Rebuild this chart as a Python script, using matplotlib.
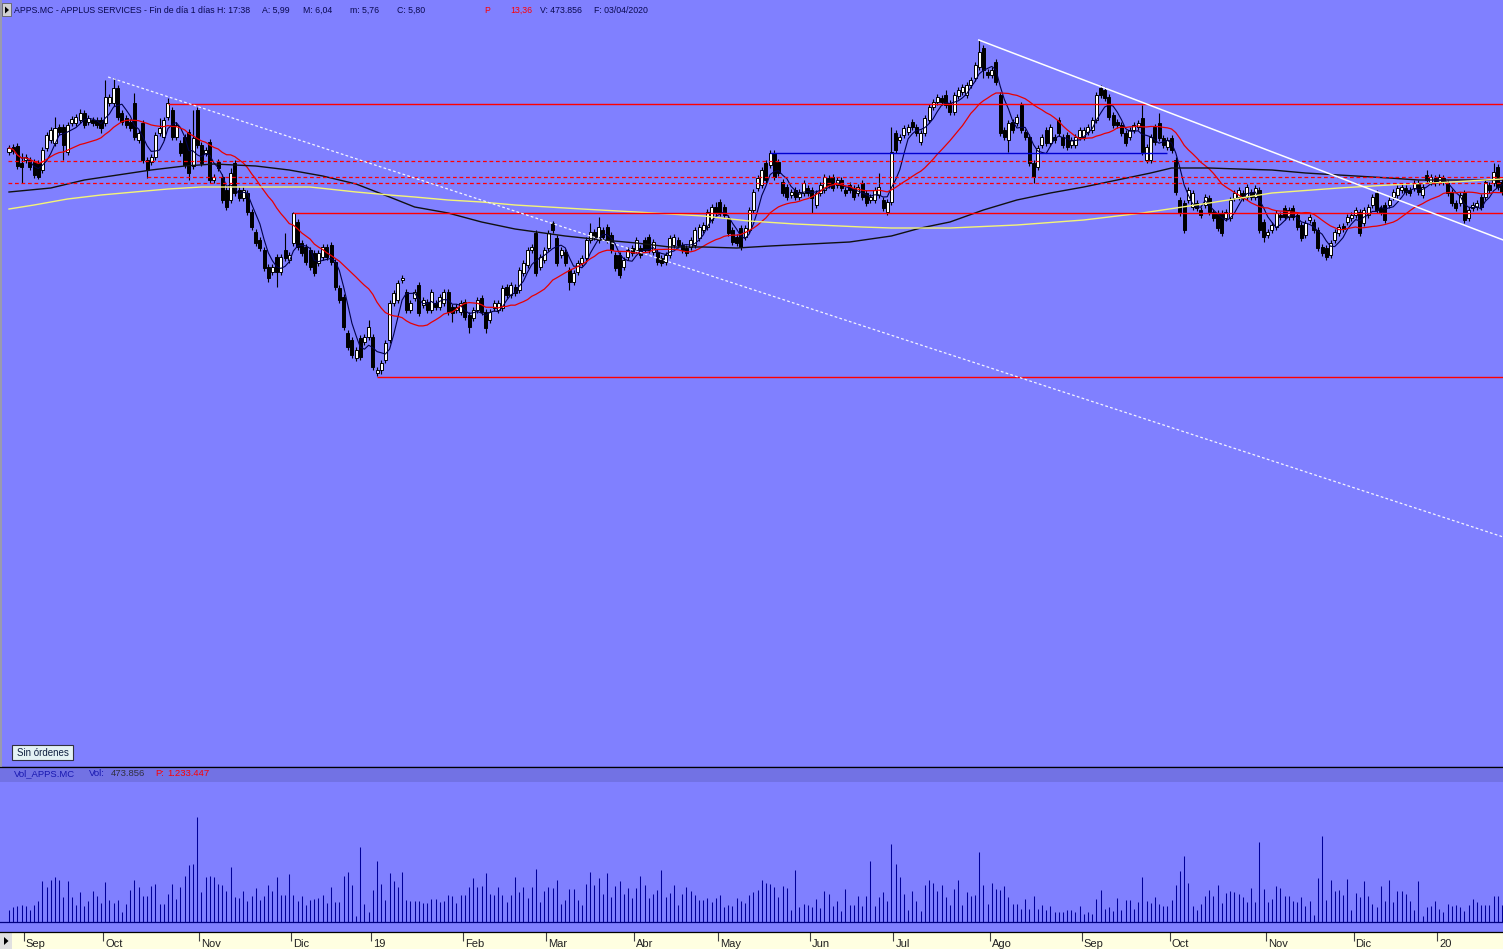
import numpy as np
import pandas as pd
import matplotlib
matplotlib.use("Agg")
import matplotlib.pyplot as plt
from matplotlib.patches import Rectangle, Polygon
import matplotlib.transforms as mtransforms

# ---------------- data (prices in euro cents, volume in thousands of shares) -------------
opens = [
    1148,1153,1154,1137,1140,1140,1138,1137,1130,1152,
    1160,1157,1173,1173,1148,1177,1177,1180,1187,1178,
    1180,1180,1180,1177,1197,1197,1212,1187,1182,1178,
    1197,1160,1177,1140,1138,1143,1167,1163,1183,1190,
    1163,1157,1163,1168,1134,1190,1155,1147,1158,1120,
    1138,1123,1110,1100,1137,1110,1102,1107,1088,1068,
    1060,1050,1033,1028,1043,1028,1050,1040,1057,1078,
    1057,1053,1050,1047,1037,1043,1053,1055,1038,1012,
    1003,967,960,942,962,958,963,963,927,930,
    940,960,997,1000,1020,1008,990,1002,1015,995,
    998,990,997,993,997,1008,993,990,988,998,
    985,982,990,1002,988,980,992,990,992,1013,
    1005,1013,1010,1027,1035,1050,1067,1033,1040,1052,
    1077,1062,1045,1048,1030,1018,1028,1037,1042,1060,
    1068,1060,1070,1073,1065,1045,1045,1033,1043,1052,
    1050,1052,1060,1063,1048,1048,1042,1038,1045,1055,
    1060,1055,1052,1053,1055,1062,1070,1073,1080,1093,
    1098,1093,1082,1070,1063,1072,1063,1070,1090,1112,
    1115,1137,1135,1147,1138,1118,1113,1105,1110,1103,
    1107,1112,1110,1095,1107,1110,1122,1123,1115,1120,
    1110,1115,1112,1107,1117,1107,1100,1100,1105,1100,
    1088,1098,1167,1160,1165,1168,1178,1173,1158,1167,
    1180,1193,1198,1202,1205,1197,1188,1204,1208,1205,
    1215,1222,1233,1252,1228,1225,1238,1205,1170,1160,
    1178,1177,1195,1168,1163,1137,1133,1155,1170,1157,
    1163,1180,1163,1165,1155,1155,1163,1163,1168,1170,
    1180,1212,1210,1203,1185,1178,1175,1167,1163,1170,
    1173,1182,1140,1140,1173,1177,1162,1153,1162,1140,
    1100,1097,1100,1093,1097,1090,1095,1102,1088,1087,
    1087,1082,1082,1102,1103,1107,1103,1108,1103,1110,
    1078,1065,1070,1073,1085,1092,1083,1092,1085,1075,
    1065,1080,1078,1070,1053,1052,1045,1060,1067,1074,
    1078,1082,1085,1088,1077,1085,1095,1107,1092,1095,
    1095,1103,1105,1110,1112,1110,1112,1117,1105,1125,
    1118,1122,1118,1122,1117,1108,1097,1097,1107,1082,
    1092,1093,1103,1103,1115,1117,1133,1118,
]
highs = [
    1155,1156,1157,1147,1146,1143,1141,1140,1153,1168,
    1173,1183,1176,1176,1178,1184,1186,1191,1190,1185,
    1183,1183,1183,1220,1206,1222,1215,1190,1185,1181,
    1207,1170,1180,1143,1146,1168,1182,1183,1202,1193,
    1178,1160,1166,1171,1190,1193,1158,1153,1161,1126,
    1141,1126,1113,1132,1140,1113,1113,1110,1091,1071,
    1063,1053,1036,1036,1046,1046,1067,1048,1088,1081,
    1060,1056,1053,1050,1050,1056,1056,1058,1041,1015,
    1006,970,963,953,965,966,980,966,933,940,
    960,1000,1010,1020,1025,1011,1000,1011,1018,1003,
    1001,1011,1000,1006,1011,1011,996,996,1000,1001,
    988,993,1003,1005,991,991,1000,1000,1015,1016,
    1018,1016,1033,1040,1053,1056,1070,1046,1053,1070,
    1079,1065,1053,1051,1033,1030,1040,1045,1063,1077,
    1071,1083,1073,1076,1068,1048,1048,1043,1053,1055,
    1063,1055,1063,1066,1061,1051,1045,1048,1065,1066,
    1063,1058,1055,1063,1073,1076,1078,1091,1096,1098,
    1101,1096,1085,1073,1066,1075,1075,1093,1111,1125,
    1133,1140,1150,1150,1141,1121,1116,1111,1113,1111,
    1120,1115,1113,1110,1118,1126,1125,1126,1123,1123,
    1113,1118,1115,1116,1120,1110,1106,1113,1127,1103,
    1101,1173,1170,1166,1175,1176,1181,1176,1170,1185,
    1196,1201,1206,1205,1210,1200,1208,1213,1216,1218,
    1223,1238,1260,1255,1231,1233,1241,1208,1173,1180,
    1181,1186,1198,1171,1166,1140,1155,1166,1173,1176,
    1166,1183,1166,1168,1163,1166,1173,1173,1176,1183,
    1208,1215,1213,1206,1188,1181,1178,1170,1173,1178,
    1180,1195,1156,1166,1176,1187,1165,1163,1165,1143,
    1103,1100,1113,1110,1100,1093,1106,1105,1091,1090,
    1090,1091,1103,1110,1113,1110,1116,1111,1115,1113,
    1081,1071,1078,1090,1088,1095,1093,1095,1088,1078,
    1080,1086,1081,1073,1056,1055,1060,1071,1076,1077,
    1086,1088,1093,1091,1093,1096,1106,1110,1095,1098,
    1103,1111,1115,1116,1115,1113,1120,1120,1116,1130,
    1126,1125,1126,1125,1120,1111,1100,1108,1110,1093,
    1098,1100,1106,1121,1118,1137,1136,1121,
]
lows = [
    1145,1146,1131,1117,1137,1130,1122,1121,1127,1149,
    1157,1154,1165,1140,1145,1174,1174,1177,1172,1175,
    1174,1172,1167,1174,1194,1194,1180,1175,1172,1169,
    1160,1157,1137,1122,1135,1140,1164,1160,1180,1160,
    1160,1144,1132,1120,1131,1152,1134,1144,1117,1117,
    1129,1097,1090,1097,1104,1099,1099,1085,1070,1054,
    1049,1029,1018,1025,1013,1025,1039,1037,1054,1050,
    1044,1035,1030,1024,1034,1040,1040,1035,1010,997,
    970,950,942,939,940,955,960,930,924,926,
    937,957,994,997,1017,987,987,999,984,992,
    987,987,990,990,994,985,978,987,985,980,
    967,979,987,985,967,977,989,987,989,1002,
    1002,1004,1007,1024,1032,1047,1024,1030,1037,1049,
    1067,1034,1042,1034,1010,1015,1025,1034,1039,1057,
    1060,1057,1060,1057,1047,1029,1022,1030,1040,1044,
    1047,1042,1047,1047,1045,1035,1034,1035,1042,1052,
    1052,1047,1044,1050,1052,1059,1067,1070,1077,1084,
    1084,1082,1064,1055,1054,1050,1060,1067,1087,1109,
    1112,1117,1132,1120,1124,1104,1100,1102,1100,1100,
    1104,1104,1087,1092,1104,1107,1112,1109,1112,1109,
    1104,1107,1100,1104,1100,1094,1097,1097,1102,1089,
    1085,1095,1147,1157,1162,1165,1170,1164,1155,1164,
    1177,1190,1195,1195,1192,1185,1185,1201,1205,1202,
    1212,1219,1230,1222,1222,1222,1215,1164,1160,1148,
    1167,1174,1167,1160,1134,1117,1130,1152,1154,1154,
    1157,1164,1152,1150,1152,1152,1160,1160,1165,1167,
    1177,1202,1199,1180,1172,1172,1164,1154,1160,1167,
    1170,1145,1137,1137,1155,1159,1152,1150,1147,1105,
    1084,1067,1097,1090,1089,1082,1092,1085,1079,1069,
    1064,1079,1079,1099,1100,1099,1100,1100,1100,1067,
    1058,1062,1067,1070,1080,1080,1080,1080,1070,1059,
    1062,1077,1067,1049,1044,1040,1042,1057,1064,1068,
    1075,1079,1082,1064,1074,1082,1092,1087,1085,1077,
    1092,1100,1102,1107,1105,1104,1109,1105,1102,1117,
    1115,1114,1115,1115,1104,1094,1089,1094,1077,1079,
    1089,1090,1090,1100,1107,1114,1110,1105,
]
closes = [
    1152,1149,1134,1133,1143,1133,1125,1123,1150,1165,
    1170,1172,1168,1155,1175,1181,1183,1187,1175,1182,
    1177,1175,1172,1203,1203,1212,1183,1178,1175,1172,
    1163,1167,1140,1130,1143,1165,1172,1180,1197,1163,
    1175,1147,1135,1127,1162,1155,1137,1150,1120,1123,
    1132,1100,1093,1127,1107,1102,1110,1088,1073,1057,
    1052,1032,1022,1033,1028,1043,1042,1045,1087,1053,
    1047,1038,1033,1027,1047,1053,1043,1038,1013,1000,
    973,953,945,950,943,963,973,933,930,937,
    957,997,1007,1017,1022,990,997,1008,987,1000,
    990,1008,993,1003,1008,988,987,993,997,983,
    973,990,1000,988,972,988,997,997,1012,1005,
    1015,1007,1030,1037,1050,1053,1027,1043,1050,1067,
    1070,1037,1050,1037,1018,1027,1037,1042,1060,1068,
    1063,1073,1063,1060,1050,1032,1025,1040,1050,1047,
    1060,1045,1050,1050,1058,1038,1037,1045,1062,1063,
    1055,1050,1047,1060,1070,1073,1075,1088,1093,1087,
    1087,1085,1067,1058,1057,1053,1072,1090,1108,1122,
    1130,1120,1147,1123,1127,1107,1103,1108,1103,1108,
    1117,1107,1102,1107,1115,1123,1115,1112,1120,1112,
    1107,1110,1103,1113,1103,1097,1103,1110,1113,1092,
    1098,1148,1150,1163,1172,1173,1173,1167,1167,1182,
    1193,1198,1203,1198,1195,1188,1205,1210,1213,1215,
    1220,1235,1248,1230,1225,1230,1218,1167,1163,1177,
    1170,1183,1170,1163,1137,1123,1152,1163,1157,1173,
    1160,1167,1155,1153,1160,1163,1170,1170,1173,1180,
    1205,1205,1202,1183,1175,1175,1167,1157,1170,1175,
    1177,1148,1153,1163,1158,1162,1155,1160,1150,1108,
    1087,1070,1110,1107,1092,1085,1103,1088,1082,1072,
    1067,1088,1100,1107,1110,1102,1113,1103,1112,1070,
    1063,1068,1075,1087,1083,1083,1090,1083,1073,1062,
    1077,1083,1070,1052,1047,1043,1057,1068,1073,1071,
    1083,1085,1090,1067,1090,1093,1103,1090,1088,1080,
    1100,1108,1112,1113,1108,1107,1117,1108,1113,1120,
    1123,1117,1123,1118,1107,1097,1092,1105,1080,1090,
    1095,1097,1093,1118,1110,1128,1113,1108,
]
volumes = [
    240,300,320,340,320,240,340,420,820,700,
    840,900,840,500,820,500,340,600,320,420,
    620,520,380,800,440,380,440,200,360,640,
    840,700,520,520,720,760,360,360,560,760,
    460,700,920,1140,1160,2100,600,900,920,900,
    760,740,620,1100,500,480,620,420,520,680,
    440,520,740,620,900,540,540,960,540,420,
    520,340,440,460,480,540,380,700,400,400,
    920,1000,740,120,1500,360,200,640,1220,760,
    440,980,820,700,1000,440,420,420,420,380,
    380,460,460,400,420,540,520,380,540,540,
    700,880,700,720,980,560,540,700,540,400,
    540,900,600,700,480,700,1060,400,620,700,
    680,840,360,440,660,660,440,340,760,1000,
    740,880,560,980,500,720,820,560,680,480,
    680,920,740,480,560,640,1040,500,580,740,
    340,560,700,620,540,440,440,480,400,480,
    540,300,340,320,480,420,380,540,
    600,640,840,780,760,700,500,720,680,240,
    1040,300,360,340,300,460,280,620,560,320,
    420,220,660,340,340,520,320,520,1220,320,
    500,600,420,1560,1160,900,560,240,620,420,
    220,740,840,780,620,740,500,340,660,840,
    340,600,520,540,1400,740,360,780,660,640,
    720,500,360,360,260,460,260,520,260,340,
    240,320,200,200,200,240,240,200,320,160,
    200,160,460,640,260,300,220,480,240,440,
    440,260,400,900,420,380,500,360,320,320,
    440,740,1020,1320,780,320,240,360,520,640,
    520,740,380,580,620,600,560,500,400,680,
    400,1600,660,400,460,720,680,520,520,420,
    400,500,320,420,140,880,1720,440,840,620,
    640,540,860,240,580,500,820,520,360,300,
    720,420,840,400,620,620,560,420,240,820,
    120,300,320,420,260,200,360,320,340,300,
    220,340,460,400,340,340,340,520,520,340,
]

# first session of each month (candle index) and its label
month_starts = [4, 23, 46, 68, 87, 109, 129, 150, 170, 192, 212, 235, 257, 278, 301, 322, 342]
month_labels = ["Sep", "Oct", "Nov", "Dic", "19", "Feb", "Mar", "Abr", "May", "Jun",
                "Jul", "Ago", "Sep", "Oct", "Nov", "Dic", "20"]

# long moving averages (candle index, cents)
ma_long_idx = [0, 10, 18, 26, 34, 42, 49, 59, 67, 75, 83, 91, 97, 105, 113, 121, 133, 142, 150,
               158, 166, 174, 182, 201, 211, 218, 225, 233, 241, 249, 257, 265, 273, 278, 287,
               294, 302, 310, 318, 330, 337, 345, 357]
ma_long_vals = [1108, 1112, 1120, 1125, 1130, 1134, 1136, 1134, 1130, 1124, 1116, 1103, 1093,
                1087, 1078, 1071, 1064, 1060, 1057, 1053, 1053, 1052, 1054, 1058, 1064, 1072,
                1078, 1090, 1100, 1107, 1113, 1120, 1127, 1132, 1132, 1131, 1130, 1127, 1125,
                1122, 1120, 1120, 1120]
ma_yel_idx = [0, 6, 14, 22, 30, 38, 46, 72, 83, 91, 97, 105, 113, 121, 129, 137, 150, 158, 166,
              177, 188, 204, 211, 225, 241, 257, 271, 287, 302, 318, 330, 345, 357]
ma_yel_vals = [1091, 1095, 1101, 1105, 1108, 1111, 1113, 1113, 1108, 1105, 1103, 1100, 1098,
               1095, 1093, 1091, 1088, 1086, 1084, 1079, 1076, 1073, 1072, 1072, 1075, 1080,
               1087, 1097, 1107, 1112, 1115, 1118, 1121]

# drawn levels: (price cents, first candle index)
red_levels = [(1196, 38), (1087, 68), (923, 88)]
red_dashed_levels = [(1139.5, -0.3), (1123, 33), (1117.5, -0.3)]
blue_level = (1147.5, 182, 277)
# trendlines: (x0, p0, x1, p1)
trend_dashed = (23.7, 1223, 357.3, 763)
trend_solid = (231.9, 1260, 357.3, 1060)

# ---------------- figure ----------------
W, H = 1503, 949
BG = "#8080FF"
X0, DX = 9.0, 4.182
XLIM = (-X0 / DX, (W - X0) / DX)

fig = plt.figure(figsize=(W / 100, H / 100), dpi=100)
fig.patch.set_facecolor(BG)


def fy(py):
    return 1 - py / H


def clean(a):
    a.set_xticks([])
    a.set_yticks([])
    for s in a.spines.values():
        s.set_visible(False)


ax = fig.add_axes([0, fy(766), 1, 766 / H])
axh = fig.add_axes([0, fy(782), 1, 16 / H])
axv = fig.add_axes([0, fy(932), 1, 150 / H])
axb = fig.add_axes([0, 0, 1, 17 / H])
for a in (ax, axh, axv, axb):
    clean(a)
    a.set_xlim(*XLIM)
ax.set_facecolor(BG)
axh.set_facecolor("#7272E4")
axv.set_facecolor(BG)
axb.set_facecolor("#FFFFE1")

o = np.array(opens) / 100
h = np.array(highs) / 100
l = np.array(lows) / 100
c = np.array(closes) / 100
idx = np.arange(len(c))
ax.set_ylim(13.00 - 7.66, 13.00)

# candles
up = c >= o
ax.vlines(idx, l, h, color="black", lw=0.8, zorder=2)
body_h = np.maximum(np.abs(c - o), 0.012)
ax.bar(idx, body_h, bottom=np.minimum(o, c), width=0.72,
       color=np.where(up, "white", "black"), edgecolor="black", linewidth=0.7, zorder=3)

# moving averages
cs = pd.Series(c)
ax.plot(idx, cs.rolling(5, min_periods=1).mean(), color="#000048", lw=0.8, zorder=4)
ax.plot(idx, cs.rolling(20, min_periods=1).mean(), color="#E80000", lw=0.9, zorder=4)
ax.plot(ma_long_idx, np.array(ma_long_vals) / 100, color="#101010", lw=1.0, zorder=4)
ax.plot(ma_yel_idx, np.array(ma_yel_vals) / 100, color="#F4F478", lw=1.0, zorder=4)

# levels
for p, x0 in red_levels:
    ax.hlines(p / 100, x0, XLIM[1], color="#FF0000", lw=1.0, zorder=5)
for p, x0 in red_dashed_levels:
    ax.hlines(p / 100, x0, XLIM[1], color="#FF0000", lw=0.9, linestyles=(0, (3.0, 2.2)),
              zorder=5)
ax.hlines(blue_level[0] / 100, blue_level[1], blue_level[2], color="#0000D0", lw=1.0, zorder=5)

# trendlines
xa, pa, xb, pb = trend_dashed
ax.plot([xa, xb], [pa / 100, pb / 100], color="#F4F4FF", lw=0.9, ls=(0, (2.2, 1.8)), zorder=5)
xa, pa, xb, pb = trend_solid
ax.plot([xa, xb], [pa / 100, pb / 100], color="white", lw=1.1, zorder=5)

# volume
axv.set_ylim(-200, 2800)
axv.vlines(idx, 0, volumes, color="#000098", lw=0.75)
axv.axhline(0, color="#000080", lw=0.9)

# x-axis band with month ticks
tr = mtransforms.blended_transform_factory(axb.transData, axb.transAxes)
for ms, lab in zip(month_starts, month_labels):
    xt = ms - 0.5
    axb.vlines(xt, 0.5, 1.0, color="#404040", lw=0.8, transform=tr)
    axb.text(xt + 2 / DX, 0.30, lab, transform=tr, fontsize=8, color="#202020",
             ha="left", va="center", family="Liberation Sans")

# separators
fig.add_artist(plt.Line2D([0, 1], [fy(766.5), fy(766.5)], color="black", lw=0.9))
fig.add_artist(plt.Line2D([0, 1], [fy(931.5), fy(931.5)], color="black", lw=0.9))
fig.add_artist(plt.Line2D([1 / W, 1 / W], [fy(766), fy(0)], color="#A0A0A0", lw=1.2))

# header texts
NAVY = "#0A0A50"
RED = "#FF0000"
hdr = [(14, "APPS.MC - APPLUS SERVICES - Fin de día 1 días", NAVY),
       (217, "H: 17:38", NAVY), (262, "A: 5,99", NAVY), (303, "M: 6,04", NAVY),
       (350, "m: 5,76", NAVY), (397, "C: 5,80", NAVY), (484, "P", RED), (510, "13,36", RED),
       (540, "V: 473.856", NAVY), (594, "F: 03/04/2020", NAVY)]
for xp, t, col in hdr:
    fig.text(xp / W, fy(10.5), t, fontsize=6.3, color=col, ha="left", va="center",
             family="Liberation Sans")
fig.add_artist(Rectangle((2 / W, fy(16)), 9 / W, 13 / H, facecolor="#D0D0D0",
                         edgecolor="#606060", lw=0.6))
fig.add_artist(Polygon([[5 / W, fy(6.5)], [5 / W, fy(13.5)], [9 / W, fy(10)]],
                       closed=True, facecolor="black", edgecolor="none"))

vhdr = [(14, "Vol_APPS.MC", "#1818B0"), (89, "Vol:", "#1818B0"), (111, "473.856", "#303040"),
        (155, "P:", RED), (167, "1.233.447", RED)]
for xp, t, col in vhdr:
    fig.text(xp / W, fy(773.5), t, fontsize=6.8, color=col, ha="left", va="center",
             family="Liberation Sans")

# "Sin órdenes" box
fig.add_artist(Rectangle((12 / W, fy(760)), 61 / W, 15 / H, facecolor="#E4F2F4",
                         edgecolor="#303040", lw=0.8))
fig.text(42.5 / W, fy(752.5), "Sin órdenes", fontsize=7, color="#102040", ha="center",
         va="center", family="Liberation Sans")

# x-band icon
fig.add_artist(Rectangle((0 / W, fy(949)), 12 / W, 17 / H, facecolor="#E0E0E0",
                         edgecolor="none"))
fig.add_artist(Polygon([[4 / W, fy(937)], [4 / W, fy(945)], [8.5 / W, fy(941)]],
                       closed=True, facecolor="black", edgecolor="none"))

fig.savefig("out.png", dpi=100, facecolor=BG)
